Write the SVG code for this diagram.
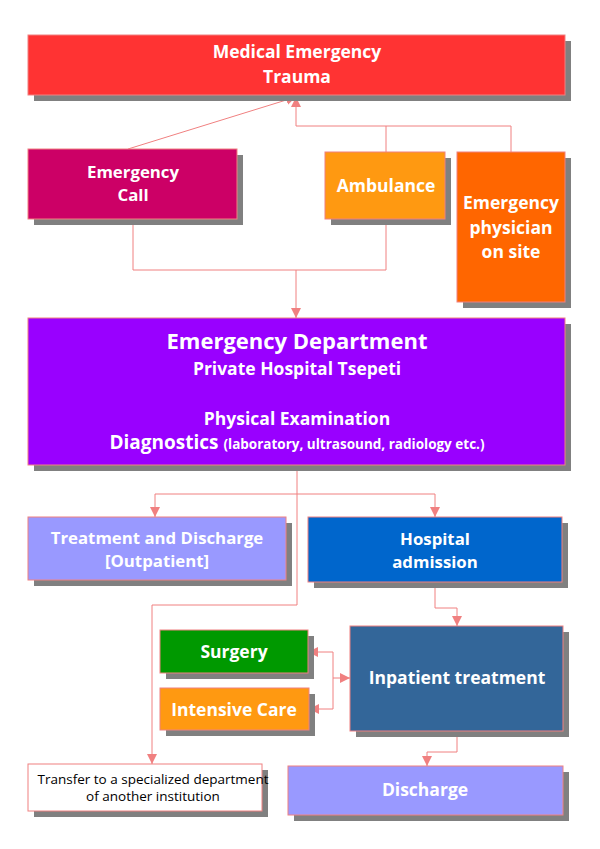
<svg xmlns="http://www.w3.org/2000/svg" width="600" height="849" viewBox="0 0 600 849">
<defs>
<style>
.sh{fill:#808080}
.bx{stroke:#f08080;stroke-width:1}
.t{font-family:"Open Sans","DejaVu Sans",sans-serif;font-weight:bold;fill:#ffffff;text-anchor:middle;font-size:17.5px}
.t2{font-size:16.8px}
.c{fill:none;stroke:#f08080;stroke-width:1}
.s{font-family:"Open Sans","DejaVu Sans",sans-serif;fill:#000000;text-anchor:middle;font-size:13.5px}
</style>
<marker id="a" viewBox="0 0 10 10" refX="10" refY="5" markerWidth="10" markerHeight="10" markerUnits="userSpaceOnUse" orient="auto">
<path d="M0,0 L10,5 L0,10 z" fill="#f08080"/>
</marker>
</defs>
<rect width="600" height="849" fill="#ffffff"/>
<g id="connectors">
<path class="c" d="M128,149 L296,97" marker-end="url(#a)"/>
<path class="c" d="M511,152 V126 H296 V97" marker-end="url(#a)"/>
<path class="c" d="M386,152 V126"/>
<path class="c" d="M133,219 V270 H386 V219"/>
<path class="c" d="M296,270 V318" marker-end="url(#a)"/>
<path class="c" d="M297,465 V605 H152 V764" marker-end="url(#a)"/>
<path class="c" d="M155,494 V517" marker-end="url(#a)"/>
<path class="c" d="M155,494 H435 V517" marker-end="url(#a)"/>
<path class="c" d="M435,582 V608 H457 V626" marker-end="url(#a)"/>
<path class="c" d="M333,678 H350" marker-end="url(#a)"/>
<path class="c" d="M333,678 V652 H308" marker-end="url(#a)"/>
<path class="c" d="M333,678 V709 H309" marker-end="url(#a)"/>
<path class="c" d="M457,731 V752 H427 V766" marker-end="url(#a)"/>
</g>
<g id="n1"><rect class="sh" x="34" y="41" width="537" height="60"/><rect class="bx" x="28" y="35" width="537" height="60" fill="#ff3333"/><text class="t" x="297" y="58">Medical Emergency</text><text class="t" x="297" y="83">Trauma</text></g>
<g id="n2"><rect class="sh" x="34" y="155" width="209" height="70"/><rect class="bx" x="28" y="149" width="209" height="70" fill="#cc0066"/><text class="t t2" x="133" y="178">Emergency</text><text class="t t2" x="133" y="201">Call</text></g>
<g id="n3"><rect class="sh" x="331" y="158" width="120" height="67"/><rect class="bx" x="325" y="152" width="120" height="67" fill="#ff9911"/><text class="t" x="386" y="192">Ambulance</text></g>
<g id="n4"><rect class="sh" x="463" y="158" width="108" height="150"/><rect class="bx" x="457" y="152" width="108" height="150" fill="#ff6600"/><text class="t" x="511" y="209">Emergency</text><text class="t" x="511" y="234">physician</text><text class="t" x="511" y="258">on site</text></g>
<g id="n5"><rect class="sh" x="34" y="324" width="537" height="147"/><rect class="bx" x="28" y="318" width="537" height="147" fill="#9900ff"/><text class="t" x="297" y="349" style="font-size:22px">Emergency Department</text><text class="t" x="297" y="375">Private Hospital Tsepeti</text><text class="t" x="297" y="425">Physical Examination</text><text class="t" x="297" y="449" style="font-size:19px">Diagnostics <tspan style="font-size:13.5px">(laboratory, ultrasound, radiology etc.)</tspan></text></g>
<g id="n6"><rect class="sh" x="34" y="523" width="258" height="63"/><rect class="bx" x="28" y="517" width="258" height="63" fill="#9999ff"/><text class="t t2" x="157" y="544">Treatment and Discharge</text><text class="t t2" x="157" y="567">[Outpatient]</text></g>
<g id="n7"><rect class="sh" x="314" y="523" width="254" height="65"/><rect class="bx" x="308" y="517" width="254" height="65" fill="#0066cc"/><text class="t t2" x="435" y="545">Hospital</text><text class="t t2" x="435" y="568">admission</text></g>
<g id="n8"><rect class="sh" x="166" y="636" width="148" height="43"/><rect class="bx" x="160" y="630" width="148" height="43" fill="#009900"/><text class="t" x="234" y="658">Surgery</text></g>
<g id="n9"><rect class="sh" x="166" y="694" width="149" height="42"/><rect class="bx" x="160" y="688" width="149" height="42" fill="#ff9911"/><text class="t" x="234" y="716">Intensive Care</text></g>
<g id="n10"><rect class="sh" x="356" y="632" width="213" height="105"/><rect class="bx" x="350" y="626" width="213" height="105" fill="#336699"/><text class="t" x="457" y="684">Inpatient treatment</text></g>
<g id="n11"><rect class="sh" x="34" y="770" width="234" height="47"/><rect class="bx" x="28" y="764" width="234" height="47" fill="#ffffff"/><text class="s" x="153" y="784">Transfer to a specialized department</text><text class="s" x="153" y="801">of another institution</text></g>
<g id="n12"><rect class="sh" x="294" y="772" width="275" height="49"/><rect class="bx" x="288" y="766" width="275" height="49" fill="#9999ff"/><text class="t" x="425" y="796">Discharge</text></g>
</svg>
